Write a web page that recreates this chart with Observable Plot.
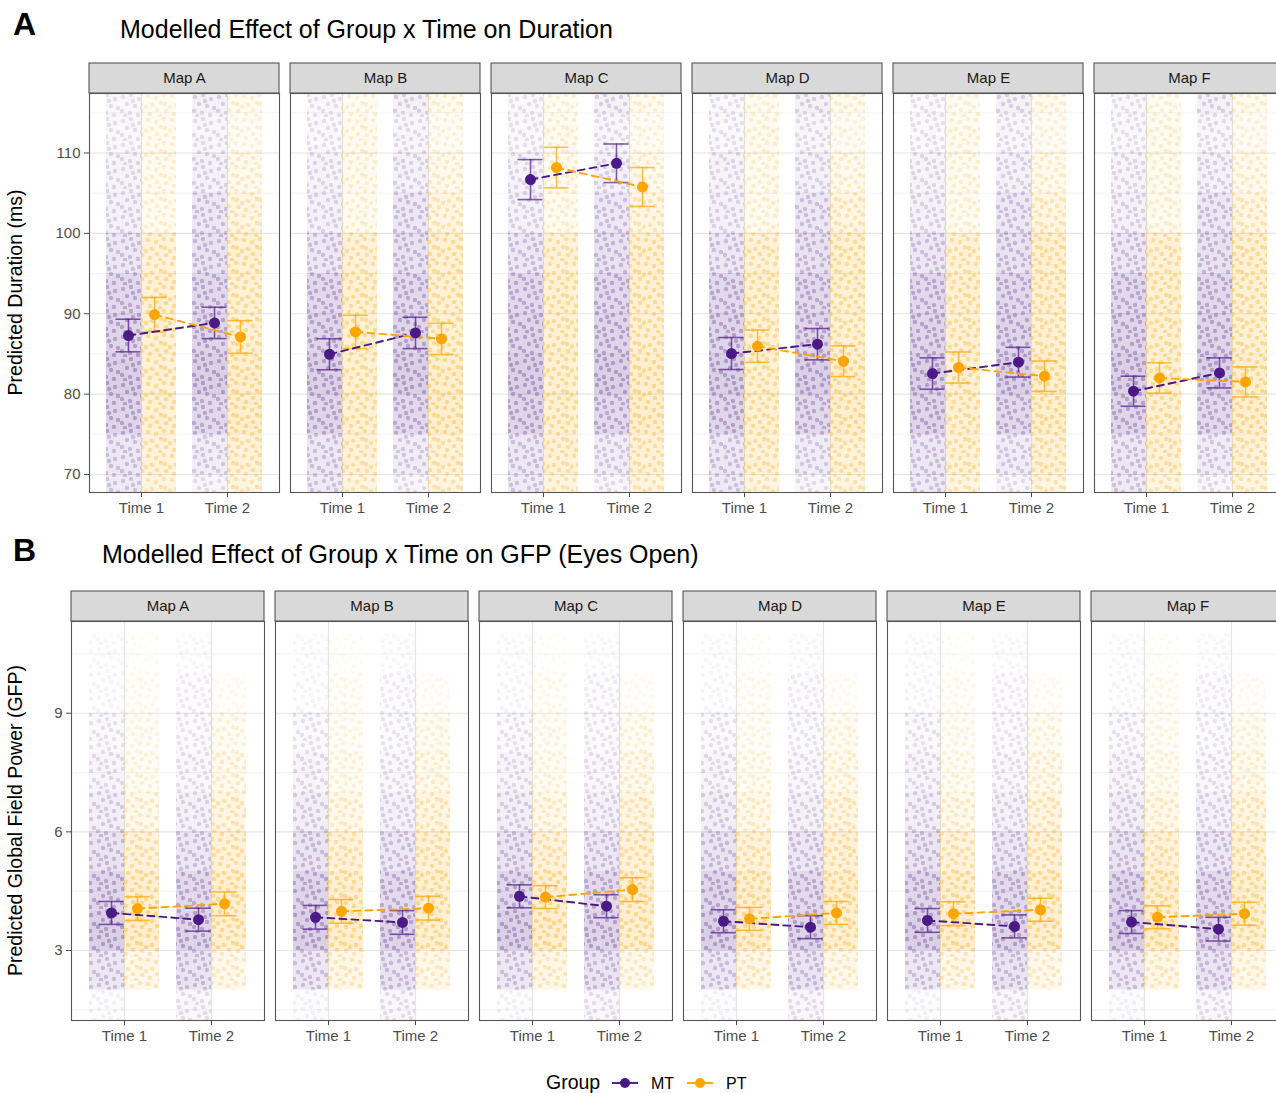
<!DOCTYPE html>
<html><head><meta charset="utf-8">
<script src="https://cdn.jsdelivr.net/npm/d3@7"></script>
<script src="https://cdn.jsdelivr.net/npm/@observablehq/plot@0.6"></script>
<style>
body{margin:0;background:#fff;width:1276px;height:1093px;overflow:hidden;position:relative;font-family:"Liberation Sans",Arial,sans-serif;}
#overlay{position:absolute;left:0;top:0;}
.panel{position:absolute;left:0;}
</style></head><body>
<svg id="overlay" width="1276" height="1093" font-family="Liberation Sans, Arial, sans-serif">
  <defs>
    <pattern id="dotsMT" width="24" height="24" patternUnits="userSpaceOnUse">
      <g fill="#4b1a86" fill-opacity="0.3">
        <circle cx="3" cy="4" r="2.2"/><circle cx="11" cy="2" r="2.2"/><circle cx="19" cy="6" r="2.2"/>
        <circle cx="7" cy="11" r="2.2"/><circle cx="15" cy="13" r="2.2"/><circle cx="22" cy="15" r="2.2"/>
        <circle cx="2" cy="18" r="2.2"/><circle cx="10" cy="20" r="2.2"/><circle cx="18" cy="22" r="2.2"/>
        <circle cx="13" cy="8" r="2.2"/><circle cx="5" cy="23" r="2.2"/>
      </g>
    </pattern>
    <pattern id="dotsPT" width="24" height="24" patternUnits="userSpaceOnUse">
      <g fill="#ffa500" fill-opacity="0.35">
        <circle cx="4" cy="3" r="2.2"/><circle cx="12" cy="5" r="2.2"/><circle cx="20" cy="2" r="2.2"/>
        <circle cx="8" cy="12" r="2.2"/><circle cx="17" cy="10" r="2.2"/><circle cx="2" cy="14" r="2.2"/>
        <circle cx="22" cy="18" r="2.2"/><circle cx="13" cy="17" r="2.2"/><circle cx="6" cy="21" r="2.2"/>
        <circle cx="16" cy="23" r="2.2"/><circle cx="21" cy="11" r="2.2"/>
      </g>
    </pattern>
  </defs>
  <text x="13" y="35" font-size="32" font-weight="bold" fill="#000">A</text>
  <text x="120" y="38" font-size="25" fill="#000">Modelled Effect of Group x Time on Duration</text>
  <text transform="translate(22,292.5) rotate(-90)" text-anchor="middle" font-size="19.5" fill="#000">Predicted Duration (ms)</text>
  <text x="13" y="561" font-size="32" font-weight="bold" fill="#000">B</text>
  <text x="102" y="563" font-size="25" fill="#000">Modelled Effect of Group x Time on GFP (Eyes Open)</text>
  <text transform="translate(22,820.5) rotate(-90)" text-anchor="middle" font-size="19.5" fill="#000">Predicted Global Field Power (GFP)</text>
  <g id="legend"></g>
</svg>
<div id="pa" class="panel" style="top:45px"></div>
<div id="pb" class="panel" style="top:573px"></div>
<script>
// ---------- categories ----------
const maps = ["Map A", "Map B", "Map C", "Map D", "Map E", "Map F"];
const times = ["Time 1", "Time 2"];
const groups = ["MT", "PT"];
const groupColors = ["#4b1a86", "#ffa500"];
const groupPatterns = ["url(#dotsMT)", "url(#dotsPT)"];

// ---------- Panel A: Duration (ms), modelled means and CI half-widths ----------
const durMT_T1 = [87.29, 84.96, 106.69, 85.05, 82.56, 80.36];
const durMT_T2 = [88.86, 87.61, 108.72, 86.21, 83.97, 82.64];
const durPT_T1 = [89.90, 87.74, 108.18, 85.96, 83.31, 82.01];
const durPT_T2 = [87.11, 86.87, 105.77, 84.09, 82.23, 81.51];
const durCI_MT_T1 = [2.03, 1.93, 2.49, 1.99, 1.95, 1.87];
const durCI_MT_T2 = [1.95, 1.95, 2.40, 1.95, 1.85, 1.87];
const durCI_PT_T1 = [2.13, 2.07, 2.52, 2.01, 1.93, 1.89];
const durCI_PT_T2 = [2.03, 1.95, 2.42, 1.91, 1.89, 1.87];
const durTicks = [70, 80, 90, 100, 110];
const durMinor = [75, 85, 95, 105, 115];
// raw-observation cloud, estimated counts per 5 ms bin
const durBinEdges = [65, 70, 75, 80, 85, 90, 95, 100, 105, 110, 115, 120];
const durCloudMT_T1 = [22, 25, 45, 50, 45, 40, 25, 15, 12, 8, 8];
const durCloudPT_T1 = [27, 35, 40, 40, 40, 40, 35, 12, 12, 12, 10];
const durCloudMT_T2 = [10, 20, 40, 50, 45, 40, 30, 25, 15, 10, 16];
const durCloudPT_T2 = [27, 35, 45, 45, 40, 40, 40, 25, 15, 8, 12];

// ---------- Panel B: GFP (Eyes Open) ----------
const gfpMT_T1 = [3.95, 3.84, 4.37, 3.74, 3.76, 3.72];
const gfpMT_T2 = [3.78, 3.71, 4.12, 3.59, 3.61, 3.54];
const gfpPT_T1 = [4.06, 3.99, 4.35, 3.80, 3.93, 3.84];
const gfpPT_T2 = [4.18, 4.07, 4.54, 3.95, 4.03, 3.93];
const gfpCI_MT_T1 = [0.29, 0.30, 0.29, 0.29, 0.30, 0.29];
const gfpCI_MT_T2 = [0.29, 0.30, 0.29, 0.29, 0.29, 0.30];
const gfpCI_PT_T1 = [0.30, 0.30, 0.29, 0.29, 0.30, 0.29];
const gfpCI_PT_T2 = [0.30, 0.30, 0.30, 0.29, 0.29, 0.29];
const gfpTicks = [3, 6, 9];
const gfpMinor = [1.5, 4.5, 7.5, 10.5];
const gfpBinEdges = [1, 2, 3, 4, 5, 6, 7, 8, 9, 10, 11, 12];
const gfpCloudMT_T1 = [3, 35, 70, 60, 40, 25, 15, 10, 2, 1, 0];
const gfpCloudPT_T1 = [0, 30, 65, 60, 45, 25, 12, 8, 5, 1, 0];
const gfpCloudMT_T2 = [12, 40, 65, 55, 35, 20, 12, 8, 5, 1, 0];
const gfpCloudPT_T2 = [0, 25, 60, 60, 50, 35, 20, 12, 3, 0, 0];

// ---------- table builders ----------
function buildMeans(mt1, mt2, pt1, pt2, cmt1, cmt2, cpt1, cpt2) {
  const rows = [];
  maps.forEach((m, i) => {
    const add = (group, time, v, c) => rows.push({map: m, group, time, mean: v, lo: v - c, hi: v + c});
    add("MT", "Time 1", mt1[i], cmt1[i]);
    add("MT", "Time 2", mt2[i], cmt2[i]);
    add("PT", "Time 1", pt1[i], cpt1[i]);
    add("PT", "Time 2", pt2[i], cpt2[i]);
  });
  return rows;
}
function buildCloud(edges, series) {
  const rows = [];
  for (const [group, time, counts] of series) {
    counts.forEach((c, k) => rows.push({group, time, y1: edges[k], y2: edges[k + 1], count: c}));
  }
  return rows;
}

const durMeans = buildMeans(durMT_T1, durMT_T2, durPT_T1, durPT_T2, durCI_MT_T1, durCI_MT_T2, durCI_PT_T1, durCI_PT_T2);
const gfpMeans = buildMeans(gfpMT_T1, gfpMT_T2, gfpPT_T1, gfpPT_T2, gfpCI_MT_T1, gfpCI_MT_T2, gfpCI_PT_T1, gfpCI_PT_T2);
const durCloud = buildCloud(durBinEdges, [["MT", "Time 1", durCloudMT_T1], ["PT", "Time 1", durCloudPT_T1], ["MT", "Time 2", durCloudMT_T2], ["PT", "Time 2", durCloudPT_T2]]);
const gfpCloud = buildCloud(gfpBinEdges, [["MT", "Time 1", gfpCloudMT_T1], ["PT", "Time 1", gfpCloudPT_T1], ["MT", "Time 2", gfpCloudMT_T2], ["PT", "Time 2", gfpCloudPT_T2]]);

const FRAME_H = 399;
function panel({means, cloud, ticks, minor, domain, marginLeft, fxPad}) {
  const maxC = d3.max(cloud, d => d.count);
  const marks = [
    Plot.gridY({ticks: minor, stroke: "#f0f0f0", strokeOpacity: 1, strokeWidth: 0.8}),
    Plot.gridY({ticks, stroke: "#e6e6e6", strokeOpacity: 1, strokeWidth: 1.2}),
    Plot.gridX({stroke: "#e6e6e6", strokeOpacity: 1, strokeWidth: 1.2})
  ];
  groups.forEach((g, gi) => {
    const rows = cloud.filter(d => d.group === g);
    const geom = {x1: "time", x2: "time", y1: "y1", y2: "y2",
      insetLeft: g === "MT" ? -35 : 0, insetRight: g === "MT" ? 0 : -35, clip: true};
    marks.push(Plot.rect(rows, {...geom, fill: groupColors[gi], fillOpacity: d => 0.2 * d.count / maxC}));
    marks.push(Plot.rect(rows, {...geom, fill: groupPatterns[gi], fillOpacity: d => Math.sqrt(d.count / maxC)}));
  });
  groups.forEach((g, gi) => {
    const col = groupColors[gi];
    const off = g === "MT" ? -13 : 13;
    const rows = means.filter(d => d.group === g);
    const eb = {fx: "map", dx: off, stroke: col, strokeWidth: 1.6, strokeOpacity: 0.7};
    marks.push(Plot.ruleX(rows, {...eb, x: "time", y1: "lo", y2: "hi"}));
    marks.push(Plot.ruleY(rows, {...eb, x1: "time", x2: "time", y: "lo", insetLeft: -12.5, insetRight: -12.5}));
    marks.push(Plot.ruleY(rows, {...eb, x1: "time", x2: "time", y: "hi", insetLeft: -12.5, insetRight: -12.5}));
  });
  groups.forEach((g, gi) => {
    const off = g === "MT" ? -13 : 13;
    const rows = means.filter(d => d.group === g);
    marks.push(Plot.line(rows, {fx: "map", x: "time", y: "mean", dx: off, stroke: groupColors[gi], strokeWidth: 1.9, strokeDasharray: "7 5"}));
  });
  groups.forEach((g, gi) => {
    const off = g === "MT" ? -13 : 13;
    const rows = means.filter(d => d.group === g);
    marks.push(Plot.dot(rows, {fx: "map", x: "time", y: "mean", dx: off, r: 5.5, fill: groupColors[gi], stroke: "none"}));
  });
  marks.push(
    Plot.frame({stroke: "#555", strokeWidth: 1.1}),
    Plot.rect(maps, {fx: d => d, fill: "#d9d9d9", stroke: "#555", strokeWidth: 1.1, insetTop: -30, insetBottom: FRAME_H}),
    Plot.text(maps, {fx: d => d, text: d => d, frameAnchor: "top", lineAnchor: "middle", dy: -15, fontSize: 15, fill: "#1a1a1a"}),
    Plot.axisY({ticks, tickSize: 5, tickPadding: 4, label: null, color: "#4d4d4d", fontSize: 15}),
    Plot.axisX({tickSize: 5, tickPadding: 5, label: null, color: "#4d4d4d", fontSize: 15})
  );
  return Plot.plot({
    width: 1284, height: 48 + FRAME_H + 30,
    marginTop: 48, marginBottom: 30, marginLeft, marginRight: 0,
    style: {fontFamily: "Liberation Sans, Arial, sans-serif", fontSize: "15px", background: "transparent", overflow: "visible", maxWidth: "none"},
    fx: {domain: maps, paddingInner: fxPad, paddingOuter: 0, axis: null, label: null},
    x: {type: "point", domain: times, padding: 0.6, label: null, axis: null},
    y: {domain, label: null, axis: null},
    opacity: {type: "identity"},
    marks
  });
}

document.getElementById("pa").append(panel({
  means: durMeans, cloud: durCloud, ticks: durTicks, minor: durMinor,
  domain: [67.76, 117.4], marginLeft: 89, fxPad: 11 / 201
}));
document.getElementById("pb").append(panel({
  means: gfpMeans, cloud: gfpCloud, ticks: gfpTicks, minor: gfpMinor,
  domain: [1.23, 11.32], marginLeft: 71, fxPad: 11 / 204
}));

// ---------- legend ----------
const lg = d3.select("#legend");
lg.append("text").attr("x", 546).attr("y", 1089).attr("font-size", 19.5).attr("fill", "#000").text("Group");
const keyX = [612, 687];
groups.forEach((g, i) => {
  const x = keyX[i];
  lg.append("line").attr("x1", x).attr("x2", x + 26).attr("y1", 1083).attr("y2", 1083)
    .attr("stroke", groupColors[i]).attr("stroke-width", 1.9);
  lg.append("circle").attr("cx", x + 13).attr("cy", 1083).attr("r", 5).attr("fill", groupColors[i]);
  lg.append("text").attr("x", x + 39).attr("y", 1089).attr("font-size", 16).attr("fill", "#000").text(g);
});
</script>
</body></html>
